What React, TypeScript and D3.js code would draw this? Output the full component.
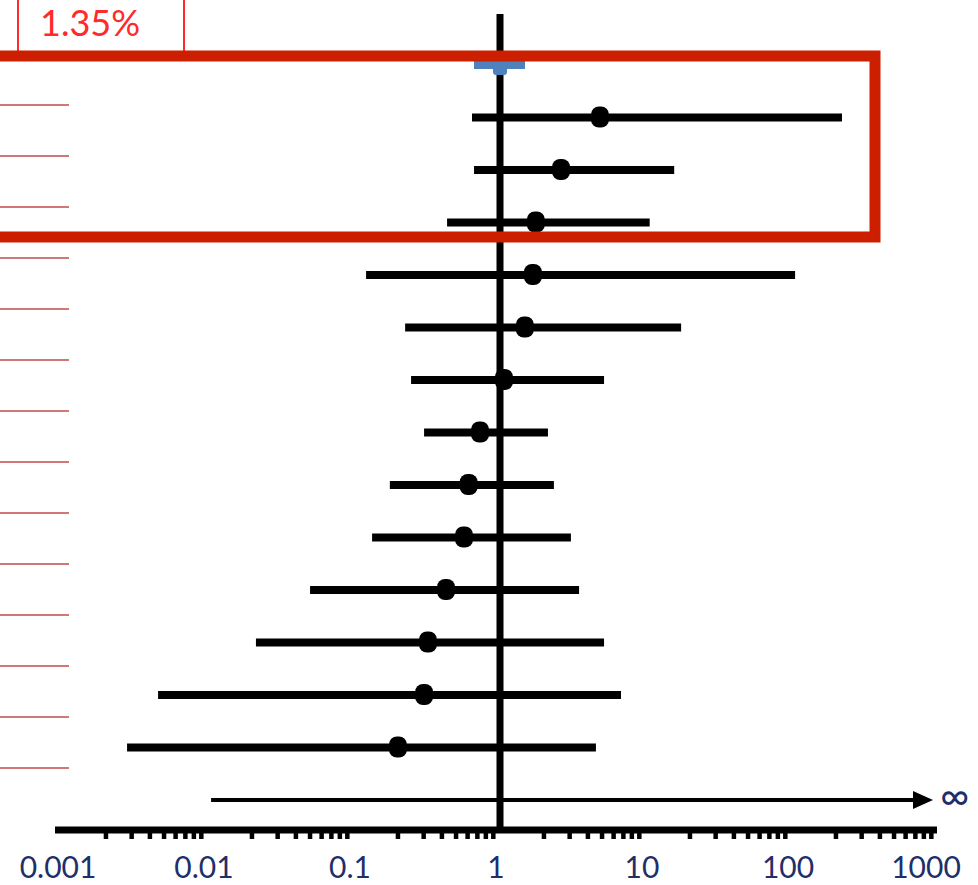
import React from 'react';
import * as d3 from 'd3';

// odds ratios (point, lower CI, upper CI), top row is the reference
const rowLabels = ['ref', 'r1', 'r2', 'r3', 'r4', 'r5', 'r6', 'r7', 'r8', 'r9', 'r10', 'r11', 'r12', 'r13', 'r14'];
const estimates = [null, 4.84, 2.62, 1.76, 1.68, 1.48, 1.065, 0.73, 0.61, 0.567, 0.427, 0.321, 0.302, 0.2];
const lowerCI = [null, 0.643, 0.664, 0.434, 0.121, 0.224, 0.246, 0.302, 0.176, 0.133, 0.05, 0.0213, 0.00455, 0.00279];
const upperCI = [null, 220, 15.6, 10.6, 105, 17.4, 5.16, 2.13, 2.34, 3.06, 3.48, 5.16, 6.74, 4.54];
const arrowFrom = 0.0105;
const tickValues = [0.001, 0.01, 0.1, 1, 10, 100, 1000];
const tickLabels = ['0.001', '0.01', '0.1', '1', '10', '100', '1000'];
const cellText = '1.35%';

const W = 978;
const H = 885;
const FONT = 'Lato, "Open Sans", sans-serif';

export default function App() {
  const x = d3.scaleLog().domain([0.001, 1000]).range([62, 938]);
  const y = d3.scalePoint().domain(rowLabels).range([65, 800]);
  const sepY = d3.scaleLinear().domain([0, 13]).range([105, 768]);
  const axisY = 830;

  const minor: number[] = [];
  for (let e = -3; e < 3; e++) {
    for (let m = 2; m <= 9; m++) minor.push(m * Math.pow(10, e));
  }

  const yRef = y('ref') as number;
  const yArrow = y('r14') as number;

  return (
    <svg width={W} height={H} style={{ display: 'block', position: 'absolute', left: 0, top: 0 }}>
      <rect width={W} height={H} fill="#fff" />

      {/* table fragments on the left */}
      <line x1={18} x2={18} y1={0} y2={52} stroke="#ff2a2a" strokeWidth={2} />
      <line x1={184} x2={184} y1={0} y2={52} stroke="#ff2a2a" strokeWidth={2} />
      <text x={40} y={36} fontFamily={FONT} fontSize={36} fill="#ff2a2a">{cellText}</text>
      {d3.range(14).map(i => (
        <line key={i} x1={0} x2={69} y1={sepY(i)} y2={sepY(i)} stroke="#d07878" strokeWidth={2} />
      ))}

      {/* null line */}
      <line x1={x(1)} x2={x(1)} y1={14} y2={axisY} stroke="#000" strokeWidth={7} />

      {/* reference row */}
      <rect x={474} y={yRef - 4} width={51} height={8} fill="#4f81bd" />
      <rect x={x(1) - 7} y={yRef - 4} width={14} height={14} rx={3} fill="#4f81bd" />

      {/* CI bars and estimates */}
      {rowLabels.slice(1, 14).map((r, k) => {
        const i = k + 1;
        const cy = y(r) as number;
        return (
          <g key={r}>
            <line x1={x(lowerCI[i] as number)} x2={x(upperCI[i] as number)} y1={cy} y2={cy} stroke="#000" strokeWidth={8} />
            <rect x={x(estimates[i] as number) - 9} y={cy - 11} width={18} height={21} rx={8} fill="#000" />
          </g>
        );
      })}

      {/* open-ended interval */}
      <line x1={x(arrowFrom)} x2={915} y1={yArrow} y2={yArrow} stroke="#000" strokeWidth={4} />
      <path d={`M913,${yArrow - 9} L933,${yArrow} L913,${yArrow + 9} Z`} fill="#000" />
      <text x={940} y={yArrow + 10} fontFamily={FONT} fontSize={40} fill="#1f2f6a">∞</text>

      {/* log axis */}
      <line x1={55} x2={937} y1={axisY} y2={axisY} stroke="#000" strokeWidth={7} />
      {minor.map(v => (
        <line key={v} x1={x(v)} x2={x(v)} y1={axisY} y2={axisY + 9} stroke="#000" strokeWidth={4.5} />
      ))}
      {tickValues.map((v, i) => (
        <text key={v} x={i === 6 ? x(v) - 12 : x(v) - 4} y={878} textAnchor="middle" fontFamily={FONT} fontSize={30} fill="#1f2f6a">
          {tickLabels[i]}
        </text>
      ))}

      {/* highlight box */}
      <rect x={-20} y={56} width={895} height={181} fill="none" stroke="#cc1f00" strokeWidth={11} />
    </svg>
  );
}
